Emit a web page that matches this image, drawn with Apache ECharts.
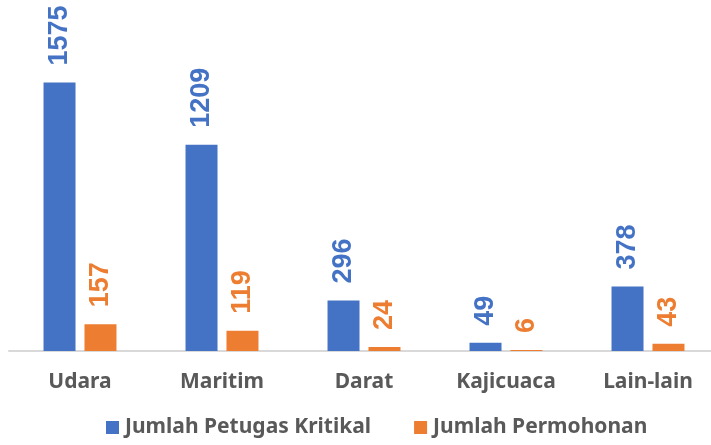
<!DOCTYPE html>
<html>
<head>
<meta charset="utf-8">
<script src="https://cdn.jsdelivr.net/npm/echarts@6/dist/echarts.min.js"></script>
<style>
  html, body { margin: 0; padding: 0; background: #fff; overflow: hidden; }
  #chart { width: 720px; height: 445px; }
</style>
</head>
<body>
<div id="chart"></div>
<script>
const categories = ['Udara', 'Maritim', 'Darat', 'Kajicuaca', 'Lain-lain']
const petugasKritikal = [1575, 1209, 296, 49, 378]
const permohonan = [157, 119, 24, 6, 43]

const labelFont = 'Noto Sans'
const textGray = '#595959'

function barLabel(color) {
  return {
    show: true,
    position: 'top',
    rotate: 90,
    align: 'left',
    verticalAlign: 'middle',
    distance: 17,
    color: color,
    fontFamily: 'Liberation Sans',
    fontWeight: 'bold',
    fontSize: 27,
  }
}

const chart = echarts.init(document.getElementById('chart'))
chart.setOption({
  animation: false,
  grid: { left: 9, width: 710, top: 10, bottom: 94, containLabel: false },
  xAxis: {
    type: 'category',
    data: categories,
    axisTick: { show: false },
    axisLine: { lineStyle: { color: '#D9D9D9', width: 2 } },
    axisLabel: {
      color: textGray,
      fontFamily: labelFont,
      fontWeight: 'bold',
      fontSize: 21,
      margin: 21,
    },
  },
  yAxis: {
    type: 'value',
    min: 0,
    max: 2000,
    show: false,
    splitLine: { show: false },
  },
  legend: {
    bottom: 2,
    left: 101,
    itemWidth: 13,
    itemHeight: 13,
    itemGap: 43,
    icon: 'rect',
    textStyle: {
      color: textGray,
      fontFamily: labelFont,
      fontWeight: 'bold',
      fontSize: 21,
      padding: [0, 0, 0, 1],
    },
  },
  series: [
    {
      name: 'Jumlah Petugas Kritikal',
      type: 'bar',
      data: petugasKritikal,
      barWidth: 32,
      barGap: '28%',
      itemStyle: { color: '#4472C4' },
      label: barLabel('#4472C4'),
    },
    {
      name: 'Jumlah Permohonan',
      type: 'bar',
      data: permohonan,
      barWidth: 32,
      itemStyle: { color: '#ED7D31' },
      label: barLabel('#ED7D31'),
    },
  ],
})
</script>
</body>
</html>
